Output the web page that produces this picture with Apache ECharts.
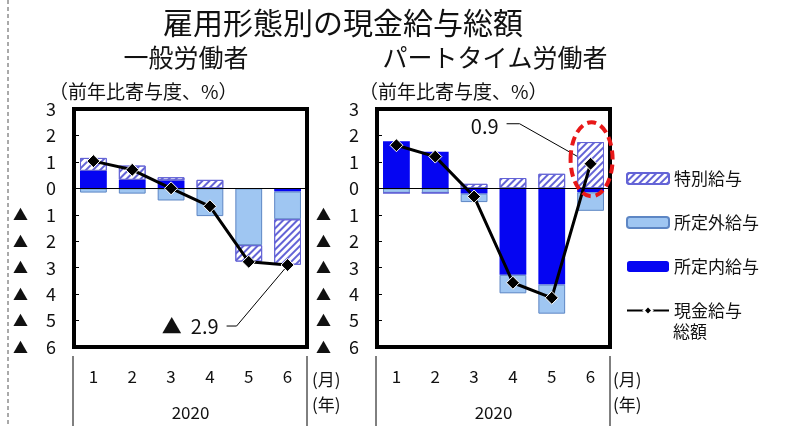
<!DOCTYPE html>
<html>
<head>
<meta charset="utf-8">
<script src="https://cdn.jsdelivr.net/npm/echarts@6/dist/echarts.min.js"></script>
<style>
  html, body { margin: 0; padding: 0; background: #fff; }
  #chart { width: 788px; height: 426px; }
</style>
</head>
<body>
<div id="chart"></div>
<script>
// 2020年 前年比寄与度（%）
const months = ['1', '2', '3', '4', '5', '6']
const yearLabel = '2020'

// 一般労働者
const genShoteinai = [0.66, 0.32, 0.30, 0, 0, -0.12]
const genShoteigai = [-0.16, -0.20, -0.46, -1.05, -2.15, -1.05]
const genTokubetsu = [0.49, 0.54, 0.12, 0.32, -0.62, -1.72]
const genTotal = [1.03, 0.70, 0.0, -0.68, -2.78, -2.9]

// パートタイム労働者
const partShoteinai = [1.78, 1.38, -0.20, -3.27, -3.64, -0.15]
const partShoteigai = [-0.17, -0.17, -0.32, -0.70, -1.10, -0.70]
const partTokubetsu = [0, 0, 0.17, 0.39, 0.55, 1.75]
const partTotal = [1.63, 1.20, -0.31, -3.57, -4.14, 0.93]

const yMin = -6
const yMax = 3

const font = '"Noto Sans CJK JP", "Noto Sans", sans-serif'
const ink = '#111'
const darkBlue = '#0505f2'
const lightBlue = '#9fc6f2'
const lightBlueEdge = '#5d86c4'
const hatch = '#6464d6'

const chart = echarts.init(document.getElementById('chart'))

const grids = [
  { left: 74, right: 788 - 307, top: 109, bottom: 426 - 354 },
  { left: 377, right: 788 - 610, top: 109, bottom: 426 - 354 },
]

const yLabel = (v) => (v < 0 ? `{t|▲}{n|${-v}}` : `{n|${v}}`)

const makeSeries = (idx, shoteinai, shoteigai, tokubetsu, total) => [
  {
    name: '所定内給与', type: 'bar', stack: 's' + idx, xAxisIndex: idx, yAxisIndex: idx,
    data: shoteinai, barWidth: '69%',
    itemStyle: { color: darkBlue },
    markLine: {
      silent: true, symbol: ['none', 'none'], label: { show: false },
      lineStyle: { color: '#000', width: 1, type: 'solid' },
      data: [{ yAxis: 0 }],
    },
  },
  {
    name: '所定外給与', type: 'bar', stack: 's' + idx, xAxisIndex: idx, yAxisIndex: idx,
    data: shoteigai, barWidth: '69%',
    itemStyle: { color: lightBlue, borderColor: lightBlueEdge, borderWidth: 1 },
  },
  {
    name: '特別給与', type: 'bar', stack: 's' + idx, xAxisIndex: idx, yAxisIndex: idx,
    data: tokubetsu, barWidth: '69%',
    itemStyle: {
      color: '#fff', borderColor: hatch, borderWidth: 1,
      decal: { symbol: 'rect', symbolSize: 1, dashArrayX: [[1, 0]], dashArrayY: [2, 3], rotation: -Math.PI / 4, color: hatch },
    },
  },
  {
    name: '現金給与総額', type: 'line', xAxisIndex: idx, yAxisIndex: idx,
    data: total, z: 5,
    symbol: 'diamond', symbolSize: 13,
    lineStyle: { color: '#000', width: 3 },
    itemStyle: { color: '#000', borderColor: '#fff', borderWidth: 1 },
  },
]

const legendBase = {
  orient: 'vertical', left: 621,
  itemWidth: 42, itemHeight: 11, itemGap: 27,
  textStyle: { fontSize: 17, color: ink, fontFamily: font },
}

chart.setOption({
  animation: false,
  textStyle: { fontFamily: font, color: ink },
  title: [
    { text: '雇用形態別の現金給与総額', left: 338, top: 3, textAlign: 'center',
      textStyle: { fontSize: 30, fontWeight: 'normal', color: ink, fontFamily: font } },
    { text: '一般労働者', left: 181, top: 40, textAlign: 'center',
      textStyle: { fontSize: 25, fontWeight: 'normal', color: ink, fontFamily: font } },
    { text: 'パートタイム労働者', left: 490, top: 40, textAlign: 'center',
      textStyle: { fontSize: 25, fontWeight: 'normal', color: ink, fontFamily: font } },
    { text: '（前年比寄与度、%）', left: 44, top: 77,
      textStyle: { fontSize: 19, fontWeight: 'normal', color: ink, fontFamily: font } },
    { text: '（前年比寄与度、%）', left: 354, top: 77,
      textStyle: { fontSize: 19, fontWeight: 'normal', color: ink, fontFamily: font } },
  ],
  legend: [
    { ...legendBase, top: 165, data: ['特別給与', '所定外給与', '所定内給与'] },
    { ...legendBase, top: 297, data: ['現金給与総額'], formatter: () => '現金給与' },
  ],
  grid: grids.map((g) => ({ ...g, show: true, borderColor: '#000', borderWidth: 4, backgroundColor: '#fff' })),
  xAxis: grids.map((g, i) => ({
    type: 'category', gridIndex: i, data: months,
    axisLine: { show: false }, axisTick: { show: false },
    axisLabel: { fontSize: 17, color: ink, margin: 21, fontFamily: font },
    name: yearLabel, nameLocation: 'middle', nameGap: 57,
    nameTextStyle: { fontSize: 17, color: ink, fontFamily: font },
  })),
  yAxis: grids.map((g, i) => ({
    type: 'value', gridIndex: i, min: yMin, max: yMax, interval: 1,
    splitLine: { show: false },
    axisLine: { show: false },
    axisTick: { show: true, inside: true, length: 5, lineStyle: { color: '#000' } },
    axisLabel: {
      margin: 18, formatter: yLabel,
      rich: {
        t: { fontSize: 15, width: 33, align: 'left', fontFamily: font, color: ink },
        n: { fontSize: 18, fontFamily: font, color: ink },
      },
    },
  })),
  series: [
    ...makeSeries(0, genShoteinai, genShoteigai, genTokubetsu, genTotal),
    ...makeSeries(1, partShoteinai, partShoteigai, partTokubetsu, partTotal),
  ],
})

// annotations anchored to the data points
const px = (gi, x, y) => chart.convertToPixel({ gridIndex: gi }, [x, y])
const genPt = px(0, 5, genTotal[5])
const partPt = px(1, 5, partTotal[5])
const ringTop = px(1, 5, 2.5)
const ringBot = px(1, 5, -0.3)

const thin = { stroke: '#000', lineWidth: 1 }
const plainText = (x, y, text, size = 17) => ({
  type: 'text', x, y,
  style: { text, fontSize: size, fill: ink, fontFamily: font, verticalAlign: 'middle' },
})

const gridLines = []
grids.forEach((g) => {
  const l = g.left - 1
  const r = 788 - g.right
  gridLines.push({ type: 'line', shape: { x1: l, y1: 356, x2: l, y2: 426 }, style: thin })
  gridLines.push({ type: 'line', shape: { x1: r, y1: 356, x2: r, y2: 426 }, style: thin })
})

chart.setOption({
  graphic: [
    { type: 'line', shape: { x1: 8, y1: 0, x2: 8, y2: 426 }, style: { stroke: '#555', lineWidth: 1, lineDash: [4, 3] } },
    ...gridLines,
    plainText(312, 380, '(月)'),
    plainText(312, 405, '(年)'),
    plainText(613, 380, '(月)'),
    plainText(613, 405, '(年)'),
    // second line of the legend label 現金給与総額
    plainText(673, 332, '総額'),
    {
      type: 'text', x: genPt[0] - 69, y: genPt[1] + 61,
      style: { text: '▲  2.9', fontSize: 20, fill: ink, fontFamily: font, align: 'right', verticalAlign: 'middle' },
    },
    {
      type: 'polyline',
      shape: { points: [[genPt[0] - 61, genPt[1] + 61], [genPt[0] - 51, genPt[1] + 61], [genPt[0] - 3, genPt[1] + 4]] },
      style: { ...thin, fill: null },
    },
    {
      type: 'text', x: partPt[0] - 92, y: partPt[1] - 37,
      style: { text: '0.9', fontSize: 20, fill: ink, fontFamily: font, align: 'right', verticalAlign: 'middle' },
    },
    {
      type: 'polyline',
      shape: { points: [[partPt[0] - 84, partPt[1] - 40], [partPt[0] - 71, partPt[1] - 40], [partPt[0] - 2, partPt[1] - 1]] },
      style: { ...thin, fill: null },
    },
    {
      type: 'ellipse', z: 100,
      shape: { cx: ringTop[0] + 1, cy: (ringTop[1] + ringBot[1]) / 2, rx: 21, ry: (ringBot[1] - ringTop[1]) / 2 },
      style: { fill: null, stroke: '#e81818', lineWidth: 4, lineDash: [9, 5] },
    },
  ],
})
</script>
</body>
</html>
